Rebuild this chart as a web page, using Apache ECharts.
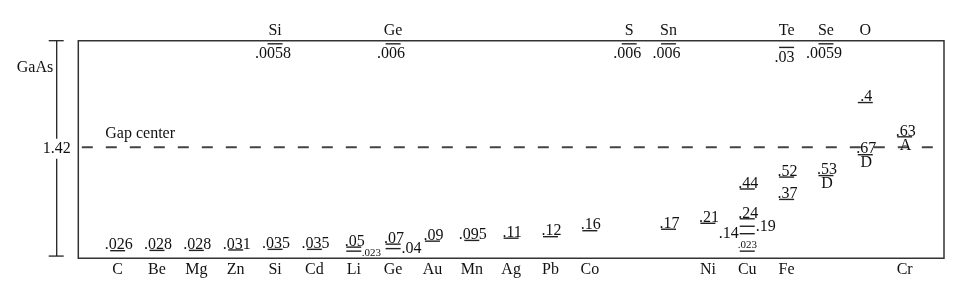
<!DOCTYPE html>
<html><head><meta charset="utf-8">
<script src="https://cdn.jsdelivr.net/npm/echarts@6/dist/echarts.min.js"></script>
<style>html,body{margin:0;padding:0;background:#fff}#c{width:978px;height:300px}</style>
</head><body><div id="c"></div>
<script>
// Column labels: acceptor-side (bottom) and donor-side (top) impurity symbols
const bottomLabels = ['C','Be','Mg','Zn','Si','Cd','Li','Ge','Au','Mn','Ag','Pb','Co','','','Ni','Cu','Fe','','','Cr'];
const topLabels    = ['','','','','Si','','','Ge','','','','','','S','Sn','','','Te','Se','O',''];
const bandGap = 1.42;
const hostName = 'GaAs';
const midLabel = 'Gap center';

// Impurity levels (eV), measured from Ev or Ec
const levelImpurity = ['Si','Ge','S','Sn','Te','Se',
  'C','Be','Mg','Zn','Si','Cd','Li','Li','Ge','Ge','Au','Mn','Ag','Pb','Co','Sn','Ni',
  'Cu','Cu','Cu','Cu','Cu','Fe','Fe','Se','O','O','Cr'];
const levelEnergy = [0.0058,0.006,0.006,0.006,0.03,0.0059,
  0.026,0.028,0.028,0.031,0.035,0.035,0.05,0.023,0.07,0.04,0.09,0.095,0.11,0.12,0.16,0.17,0.21,
  0.44,0.24,0.19,0.14,0.023,0.52,0.37,0.53,0.4,0.67,0.63];
const levelRef = ['Ec','Ec','Ec','Ec','Ec','Ec',
  'Ev','Ev','Ev','Ev','Ev','Ev','Ev','Ev','Ev','Ev','Ev','Ev','Ev','Ev','Ev','Ev','Ev',
  'Ev','Ev','Ev','Ev','Ev','Ev','Ev','Ev','Ec','Ev','Ec'];
const levelSide = ['bottom','bottom','bottom','bottom','bottom','bottom',
  'top','top','top','top','top','top','top','subRight','top','right','top','top','top','top','top','top','top',
  'top','top','right','left','subTop','top','top','top','top','top','top'];
const levelTag = ['','','','','','',
  '','','','','','','','','','','','','','','','','',
  '','','','','','','','D','','D','A'];

const FONT = '"Liberation Serif","DejaVu Serif",serif';
const INK = '#111';

function columnOf(el) {
  const b = bottomLabels.indexOf(el);
  return b >= 0 ? b : topLabels.indexOf(el);
}
function fmt(v) { return String(v).replace(/^0/, ''); }

const levelData = levelEnergy.map((e, i) => [
  columnOf(levelImpurity[i]),
  levelRef[i] === 'Ec' ? bandGap - e : e,
  i
]);

function renderLevel(params, api) {
  const p = api.coord([api.value(0), api.value(1)]);
  const i = api.value(2);
  const half = 7.5;
  const side = levelSide[i];
  const children = [{
    type: 'line',
    shape: { x1: p[0] - half, y1: p[1], x2: p[0] + half, y2: p[1] },
    style: { stroke: '#222', lineWidth: 1.4 }
  }];
  const txt = fmt(levelEnergy[i]);
  const big = 'normal 16px ' + FONT;
  const small = 'normal 11px ' + FONT;
  let t;
  if (side === 'top') t = { x: p[0] + 1, y: p[1] + 2.5, align: 'center', verticalAlign: 'bottom', font: big };
  else if (side === 'bottom') t = { x: p[0] - 2, y: p[1] + 2, align: 'center', verticalAlign: 'top', font: big };
  else if (side === 'right') t = { x: p[0] + half + 1, y: p[1] + 0.5, align: 'left', verticalAlign: 'middle', font: big };
  else if (side === 'left') t = { x: p[0] - half - 1, y: p[1] + 0.5, align: 'right', verticalAlign: 'middle', font: big };
  else if (side === 'subRight') t = { x: p[0] + half + 0.5, y: p[1] + 1.5, align: 'left', verticalAlign: 'middle', font: small };
  else t = { x: p[0], y: p[1] - 1, align: 'center', verticalAlign: 'bottom', font: small };
  children.push({
    type: 'text', x: t.x, y: t.y,
    style: { text: txt, fill: INK, font: t.font, align: t.align, verticalAlign: t.verticalAlign }
  });
  if (levelTag[i]) {
    children.push({
      type: 'text', x: p[0] + 1, y: p[1] + 0.5,
      style: { text: levelTag[i], fill: INK, font: big, align: 'center', verticalAlign: 'top' }
    });
  }
  return { type: 'group', children };
}

function renderFrame(params, api) {
  const cs = params.coordSys;
  const bot = api.coord([-1, 0]);
  const mid = api.coord([-1, bandGap / 2]);
  const right = api.coord([21, bandGap / 2]);
  const topY = cs.y;
  const bx = cs.x - 21.6;
  return {
    type: 'group',
    children: [
      { type: 'line', shape: { x1: mid[0] + 3.5, y1: mid[1] - 1.5, x2: right[0] - 6, y2: mid[1] - 1.5 },
        style: { stroke: '#444', lineWidth: 1.8, lineDash: [11, 13] } },
      { type: 'text', x: mid[0] + 27, y: mid[1] - 14.5,
        style: { text: midLabel, fill: INK, font: 'normal 16px ' + FONT, align: 'left', verticalAlign: 'middle' } },
      { type: 'line', shape: { x1: bx, y1: topY, x2: bx, y2: mid[1] - 10 }, style: { stroke: '#222', lineWidth: 1.3 } },
      { type: 'line', shape: { x1: bx, y1: mid[1] + 10, x2: bx, y2: bot[1] + 1.5 }, style: { stroke: '#222', lineWidth: 1.3 } },
      { type: 'line', shape: { x1: bx - 8, y1: topY, x2: bx + 7, y2: topY }, style: { stroke: '#222', lineWidth: 1.3 } },
      { type: 'line', shape: { x1: bx - 8, y1: bot[1] + 1.5, x2: bx + 7, y2: bot[1] + 1.5 }, style: { stroke: '#222', lineWidth: 1.3 } },
      { type: 'text', x: bx - 3.5, y: topY + 27,
        style: { text: hostName, fill: INK, font: 'normal 16px ' + FONT, align: 'right', verticalAlign: 'middle' } },
      { type: 'text', x: bx, y: mid[1] + 0.5,
        style: { text: bandGap.toFixed(2), fill: INK, font: 'normal 16px ' + FONT, align: 'center', verticalAlign: 'middle' } }
    ]
  };
}

const axisCommon = {
  type: 'value', min: -1, max: 21, interval: 1,
  axisLine: { show: false }, axisTick: { show: false }, splitLine: { show: false }
};

const chart = echarts.init(document.getElementById('c'), null, { renderer: 'canvas' });
chart.setOption({
  animation: false,
  backgroundColor: '#fff',
  grid: { left: 78.3, right: 34, top: 40.7, bottom: 41.7, show: true, borderColor: '#333', borderWidth: 1.5, backgroundColor: 'transparent' },
  xAxis: [
    Object.assign({}, axisCommon, { position: 'bottom',
      axisLabel: { margin: 3, fontSize: 16, fontFamily: FONT, color: INK, formatter: v => bottomLabels[v] || '' } }),
    Object.assign({}, axisCommon, { position: 'top',
      axisLabel: { margin: 2, fontSize: 16, fontFamily: FONT, color: INK, formatter: v => topLabels[v] || '' } })
  ],
  yAxis: { type: 'value', min: -0.025, max: 1.435, show: false, splitLine: { show: false } },
  series: [
    { type: 'custom', xAxisIndex: 0, clip: false, silent: true, renderItem: renderFrame, data: [[-1, 0]] },
    { type: 'custom', xAxisIndex: 0, clip: false, silent: true, renderItem: renderLevel, data: levelData }
  ]
});
</script></body></html>
